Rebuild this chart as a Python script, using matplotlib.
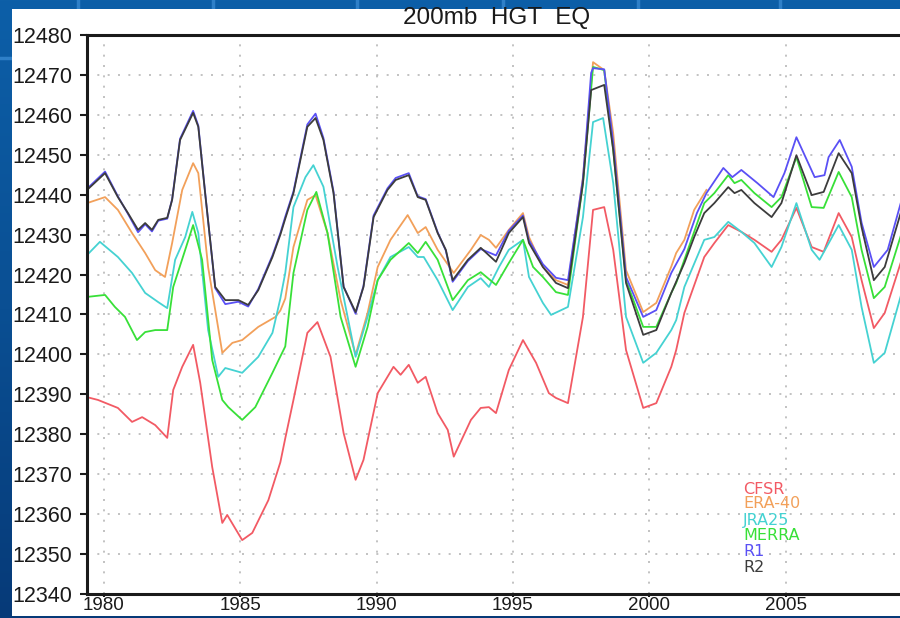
import numpy as np
import matplotlib
matplotlib.use("Agg")
import matplotlib.pyplot as plt
from matplotlib.patches import Rectangle
from matplotlib.colors import LinearSegmentedColormap

# ---------------- data ----------------
title = "200mb  HGT  EQ"
series_names = ["CFSR", "ERA-40", "JRA25", "MERRA", "R1", "R2"]
series_colors = ["#f25a64", "#f2a05a", "#45d2d2", "#38e038", "#5a50f5", "#3c3c3c"]

cfsr_years = [1979.38, 1979.78, 1980.51, 1981.03, 1981.40, 1981.88, 1982.32, 1982.54, 1982.87, 1983.27,
              1983.53, 1983.97, 1984.34, 1984.52, 1985.07, 1985.44, 1986.03, 1986.47, 1986.65, 1986.95,
              1987.46, 1987.83, 1988.31, 1988.79, 1989.23, 1989.52, 1990.04, 1990.62, 1990.88, 1991.18,
              1991.51, 1991.80, 1992.24, 1992.61, 1992.83, 1993.46, 1993.82, 1994.12, 1994.38, 1994.85,
              1995.37, 1995.85, 1996.32, 1996.58, 1997.02, 1997.57, 1997.94, 1998.35, 1998.68, 1999.15,
              1999.78, 2000.26, 2000.81, 2000.99, 2001.29, 2002.02, 2002.39, 2002.90, 2003.38, 2003.86,
              2004.49, 2004.85, 2005.40, 2005.96, 2006.40, 2006.95, 2007.43, 2007.79, 2008.24, 2008.64,
              2009.26]
cfsr_vals = [12389.3, 12388.6, 12386.6, 12383.1, 12384.3, 12382.3, 12379.1, 12391.1, 12396.9, 12402.4,
             12392.9, 12371.8, 12357.8, 12359.8, 12353.5, 12355.3, 12363.5, 12373.0, 12379.0, 12388.6,
             12405.4, 12408.1, 12399.4, 12380.3, 12368.6, 12373.6, 12390.3, 12396.9, 12394.9, 12397.4,
             12392.9, 12394.4, 12385.3, 12381.1, 12374.4, 12383.6, 12386.6, 12386.8, 12385.3, 12396.1,
             12403.6, 12397.9, 12390.3, 12389.1, 12387.8, 12409.4, 12436.2, 12436.9, 12426.2, 12401.1,
             12386.6, 12387.8, 12396.9, 12401.1, 12410.4, 12424.4, 12427.9, 12432.4, 12430.7, 12428.7,
             12425.7, 12428.7, 12436.7, 12426.9, 12425.7, 12435.4, 12429.4, 12418.6, 12406.6, 12410.4,
             12423.7]

era40_years = [1979.38, 1980.04, 1980.51, 1981.03, 1981.51, 1981.88, 1982.24, 1982.50, 1982.87, 1983.27,
               1983.46, 1983.82, 1984.34, 1984.71, 1985.07, 1985.66, 1986.29, 1986.47, 1986.65, 1986.95,
               1987.46, 1987.76, 1988.20, 1988.68, 1989.23, 1989.67, 1990.04, 1990.51, 1991.14, 1991.51,
               1991.80, 1992.24, 1992.83, 1993.46, 1993.82, 1994.12, 1994.38, 1994.85, 1995.37, 1995.59,
               1996.10, 1996.58, 1997.02, 1997.57, 1997.94, 1998.35, 1998.68, 1999.15, 1999.78, 2000.26,
               2000.81, 2000.99, 2001.29, 2001.65, 2002.10]
era40_vals = [12437.9, 12439.4, 12436.2, 12430.4, 12425.4, 12421.1, 12419.4, 12427.9, 12441.2, 12447.9,
              12445.4, 12421.9, 12400.4, 12402.9, 12403.6, 12406.9, 12409.4, 12411.0, 12414.0, 12426.9,
              12438.7, 12439.9, 12430.4, 12413.6, 12399.9, 12410.4, 12421.9, 12428.7, 12434.9, 12430.4,
              12431.9, 12426.2, 12420.4, 12426.2, 12429.9, 12428.7, 12426.7, 12431.2, 12435.4, 12429.4,
              12421.9, 12418.6, 12417.4, 12444.4, 12473.2, 12471.2, 12455.4, 12421.1, 12410.6, 12412.9,
              12422.0, 12425.4, 12428.7, 12436.2, 12441.2]

jra25_years = [1979.38, 1979.85, 1980.51, 1981.03, 1981.51, 1981.99, 1982.32, 1982.61, 1982.98, 1983.24,
               1983.46, 1983.82, 1984.19, 1984.45, 1985.07, 1985.66, 1986.18, 1986.47, 1986.65, 1986.95,
               1987.39, 1987.68, 1988.05, 1988.57, 1989.23, 1989.67, 1990.04, 1990.51, 1991.18, 1991.51,
               1991.73, 1992.24, 1992.79, 1993.35, 1993.82, 1994.12, 1994.49, 1994.85, 1995.37, 1995.59,
               1996.10, 1996.40, 1997.02, 1997.57, 1997.94, 1998.31, 1998.68, 1999.15, 1999.78, 2000.26,
               2000.81, 2000.99, 2001.29, 2002.02, 2002.39, 2002.90, 2003.38, 2003.86, 2004.49, 2004.85,
               2005.40, 2005.96, 2006.25, 2006.95, 2007.43, 2007.79, 2008.24, 2008.64, 2009.26]
jra25_vals = [12424.9, 12428.2, 12424.4, 12420.4, 12415.4, 12413.1, 12411.6, 12423.7, 12429.4, 12435.7,
              12430.4, 12406.1, 12394.4, 12396.6, 12395.4, 12399.4, 12405.4, 12414.0, 12420.4, 12436.9,
              12444.4, 12447.4, 12442.0, 12421.9, 12399.4, 12409.4, 12418.6, 12424.4, 12426.9, 12424.4,
              12424.4, 12418.6, 12411.1, 12416.9, 12419.1, 12416.9, 12421.9, 12426.2, 12428.7, 12419.4,
              12412.9, 12409.9, 12411.9, 12434.4, 12458.2, 12459.2, 12442.9, 12409.4, 12397.9, 12400.4,
              12406.1, 12408.6, 12416.9, 12428.7, 12429.4, 12433.2, 12430.7, 12427.9, 12421.9, 12426.9,
              12437.9, 12426.2, 12423.7, 12432.4, 12426.2, 12411.9, 12397.9, 12400.4, 12415.4]

merra_years = [1979.38, 1980.04, 1980.40, 1980.77, 1981.21, 1981.51, 1981.88, 1982.32, 1982.54, 1982.98,
               1983.27, 1983.60, 1983.97, 1984.34, 1984.56, 1985.07, 1985.55, 1986.18, 1986.47, 1986.65,
               1986.95, 1987.46, 1987.79, 1988.20, 1988.68, 1989.23, 1989.67, 1990.04, 1990.51, 1991.18,
               1991.51, 1991.80, 1992.24, 1992.79, 1993.35, 1993.82, 1994.38, 1994.85, 1995.37, 1995.74,
               1996.10, 1996.58, 1997.02, 1997.57, 1997.94, 1998.35, 1998.68, 1999.15, 1999.78, 2000.26,
               2000.81, 2000.99, 2001.29, 2002.02, 2002.39, 2002.90, 2003.13, 2003.38, 2003.86, 2004.49,
               2004.85, 2005.40, 2005.96, 2006.40, 2006.95, 2007.43, 2007.79, 2008.24, 2008.64, 2009.26]
merra_vals = [12414.4, 12414.9, 12411.9, 12409.4, 12403.6, 12405.6, 12406.1, 12406.1, 12416.9, 12426.2,
              12432.4, 12423.7, 12398.6, 12388.6, 12386.8, 12383.6, 12386.8, 12395.4, 12399.5, 12402.0,
              12420.4, 12436.2, 12440.7, 12430.4, 12409.4, 12396.9, 12406.9, 12418.6, 12423.7, 12427.9,
              12425.4, 12428.2, 12423.7, 12413.6, 12418.6, 12420.6, 12417.4, 12422.9, 12428.7, 12421.9,
              12419.4, 12415.6, 12414.9, 12442.9, 12472.0, 12471.2, 12451.2, 12418.6, 12406.9, 12406.9,
              12415.4, 12417.9, 12423.7, 12437.9, 12440.4, 12444.9, 12442.9, 12443.7, 12440.4, 12436.9,
              12439.4, 12449.4, 12436.9, 12436.7, 12445.7, 12439.4, 12426.2, 12414.1, 12416.9, 12430.4]

r1_years = [1979.38, 1980.04, 1980.51, 1980.88, 1981.25, 1981.51, 1981.76, 1981.99, 1982.32, 1982.50,
            1982.79, 1983.27, 1983.46, 1983.71, 1984.08, 1984.45, 1984.93, 1985.29, 1985.66, 1986.18,
            1986.47, 1986.65, 1986.95, 1987.46, 1987.76, 1988.05, 1988.42, 1988.79, 1989.23, 1989.52,
            1989.89, 1990.40, 1990.70, 1991.18, 1991.51, 1991.80, 1992.24, 1992.54, 1992.79, 1993.35,
            1993.82, 1994.38, 1994.85, 1995.37, 1995.59, 1996.10, 1996.58, 1997.02, 1997.57, 1997.87,
            1997.94, 1998.35, 1998.68, 1999.15, 1999.78, 2000.26, 2000.81, 2001.29, 2001.75, 2002.10,
            2002.72, 2003.05, 2003.38, 2003.97, 2004.56, 2004.96, 2005.40, 2006.07, 2006.43, 2006.58,
            2006.99, 2007.43, 2007.79, 2008.24, 2008.75, 2009.26]
r1_vals = [12441.5, 12445.8, 12439.6, 12435.2, 12430.6, 12432.6, 12430.8, 12433.5, 12434.0, 12438.9,
           12454.0, 12461.0, 12457.3, 12440.6, 12416.6, 12412.6, 12413.2, 12412.0, 12416.4, 12424.8,
           12430.4, 12434.5, 12440.8, 12457.6, 12460.3, 12454.2, 12440.8, 12417.0, 12410.2, 12417.2,
           12434.8, 12441.6, 12444.2, 12445.4, 12439.6, 12438.9, 12430.6, 12426.0, 12418.2, 12423.4,
           12426.4, 12424.8, 12431.0, 12434.8, 12428.6, 12422.6, 12419.2, 12418.6, 12444.0, 12470.5,
           12471.7, 12471.4, 12453.0, 12419.4, 12409.4, 12411.1, 12420.4, 12426.4, 12435.4, 12440.4,
           12446.7, 12444.4, 12446.2, 12442.9, 12439.4, 12445.4, 12454.4, 12444.4, 12444.9, 12449.4,
           12453.7, 12447.0, 12433.0, 12421.9, 12426.2, 12438.7]

r2_years = [1979.38, 1980.04, 1980.51, 1980.88, 1981.25, 1981.51, 1981.76, 1981.99, 1982.32, 1982.50,
            1982.79, 1983.27, 1983.46, 1983.71, 1984.08, 1984.45, 1984.93, 1985.29, 1985.66, 1986.18,
            1986.47, 1986.65, 1986.95, 1987.46, 1987.76, 1988.05, 1988.42, 1988.79, 1989.23, 1989.52,
            1989.89, 1990.40, 1990.70, 1991.18, 1991.51, 1991.80, 1992.24, 1992.54, 1992.79, 1993.35,
            1993.82, 1994.38, 1994.85, 1995.37, 1995.59, 1996.10, 1996.58, 1997.02, 1997.57, 1997.87,
            1998.35, 1998.68, 1999.15, 1999.78, 2000.26, 2000.81, 2001.29, 2001.65, 2002.02, 2002.39,
            2002.90, 2003.13, 2003.38, 2003.86, 2004.49, 2004.85, 2005.40, 2005.96, 2006.40, 2006.95,
            2007.43, 2007.79, 2008.24, 2008.64, 2009.26]
r2_vals = [12441.2, 12445.4, 12439.4, 12435.4, 12431.2, 12432.9, 12431.2, 12433.7, 12434.2, 12438.7,
           12453.7, 12460.5, 12457.0, 12440.4, 12416.9, 12413.6, 12413.6, 12412.4, 12416.1, 12424.4,
           12430.0, 12434.0, 12440.4, 12457.0, 12459.2, 12453.7, 12440.4, 12416.9, 12410.6, 12416.9,
           12434.4, 12441.2, 12443.7, 12444.9, 12439.4, 12438.7, 12430.4, 12426.2, 12418.6, 12423.7,
           12426.7, 12423.2, 12430.4, 12434.4, 12427.9, 12421.9, 12417.9, 12416.6, 12442.9, 12466.2,
           12467.5, 12451.2, 12417.9, 12404.9, 12406.1, 12415.4, 12422.9, 12429.4, 12435.4, 12437.9,
           12441.9, 12440.4, 12441.2, 12437.9, 12434.4, 12437.9, 12449.9, 12439.9, 12440.7, 12450.4,
           12445.4, 12431.9, 12418.6, 12421.9, 12436.2]

x_ticks = [1980, 1985, 1990, 1995, 2000, 2005]
x_tick_labels = ["1980", "1985", "1990", "1995", "2000", "2005"]
y_ticks = [12340, 12350, 12360, 12370, 12380, 12390, 12400, 12410, 12420, 12430,
           12440, 12450, 12460, 12470, 12480]

series_years = [cfsr_years, era40_years, jra25_years, merra_years, r1_years, r2_years]
series_vals = [cfsr_vals, era40_vals, jra25_vals, merra_vals, r1_vals, r2_vals]

# ---------------- figure ----------------
W, H = 900, 618
fig = plt.figure(figsize=(W / 100, H / 100), dpi=100, facecolor="#0b5aa3")

def fx(px):
    return px / W

def fy(py):
    return 1 - py / H

# slide background gradient
bg = fig.add_axes([0, 0, 1, 1], zorder=-10)
bg.set_axis_off()
grad = np.linspace(0, 1, 256).reshape(-1, 1)
cmap = LinearSegmentedColormap.from_list("slide", ["#0d5fa8", "#0a4f93", "#063a78"])
bg.imshow(grad, aspect="auto", cmap=cmap, extent=[0, 1, 0, 1], origin="upper")
bg.set_xlim(0, 1)
bg.set_ylim(0, 1)
for px in [78, 213, 357, 503, 638, 780]:
    bg.plot([fx(px), fx(px)], [fy(0), fy(9)], color="#2f80c8", lw=2.5)
bg.plot([0, fx(12)], [fy(58), fy(58)], color="#2f80c8", lw=2.5)

# white chart panel
fig.patches.append(Rectangle((fx(12), fy(616)), fx(900 - 12), (616 - 9) / H,
                             transform=fig.transFigure, facecolor="white",
                             edgecolor="none", zorder=-5))

ax = fig.add_axes([fx(87), fy(594), fx(900 - 87), (594 - 35) / H])
ax.set_facecolor("white")

for yrs, vals, col in zip(series_years, series_vals, series_colors):
    ax.plot(yrs, vals, color=col, lw=1.3, solid_joinstyle="round")

ax.set_xlim(1979.377, 2009.2)
ax.set_ylim(12340, 12480)
ax.set_xticks(x_ticks)
ax.set_xticklabels(x_tick_labels)
ax.set_yticks(y_ticks)

ax.grid(True, color="#b8b8b8", linestyle=(0, (1.2, 5)), lw=1.2)
ax.set_axisbelow(True)

for side in ["left", "bottom", "top"]:
    ax.spines[side].set_linewidth(2.2)
    ax.spines[side].set_color("#1a1a1a")
ax.spines["right"].set_visible(False)

ax.tick_params(axis="y", direction="out", length=5, width=1.5, pad=5.5,
               labelsize=15.5, colors="#1a1a1a")
ax.tick_params(axis="x", direction="out", length=2, width=1.5, pad=0.5,
               labelsize=13.5, colors="#1a1a1a")
for lab in ax.get_xticklabels() + ax.get_yticklabels():
    lab.set_fontfamily(["Liberation Sans", "DejaVu Sans"])

fig.text(fx(497), fy(18), title, ha="center", va="center", fontsize=17.5,
         family=["Liberation Sans", "DejaVu Sans"], color="#1a1a1a")

legend_y = [489, 504, 520, 536, 552, 568]
for name, col, py in zip(series_names, series_colors, legend_y):
    fig.text(fx(743), fy(py), name, ha="left", va="center", fontsize=11.5,
             family=["DejaVu Sans"], color=col)

fig.savefig("out.png", dpi=100, facecolor=fig.get_facecolor())
